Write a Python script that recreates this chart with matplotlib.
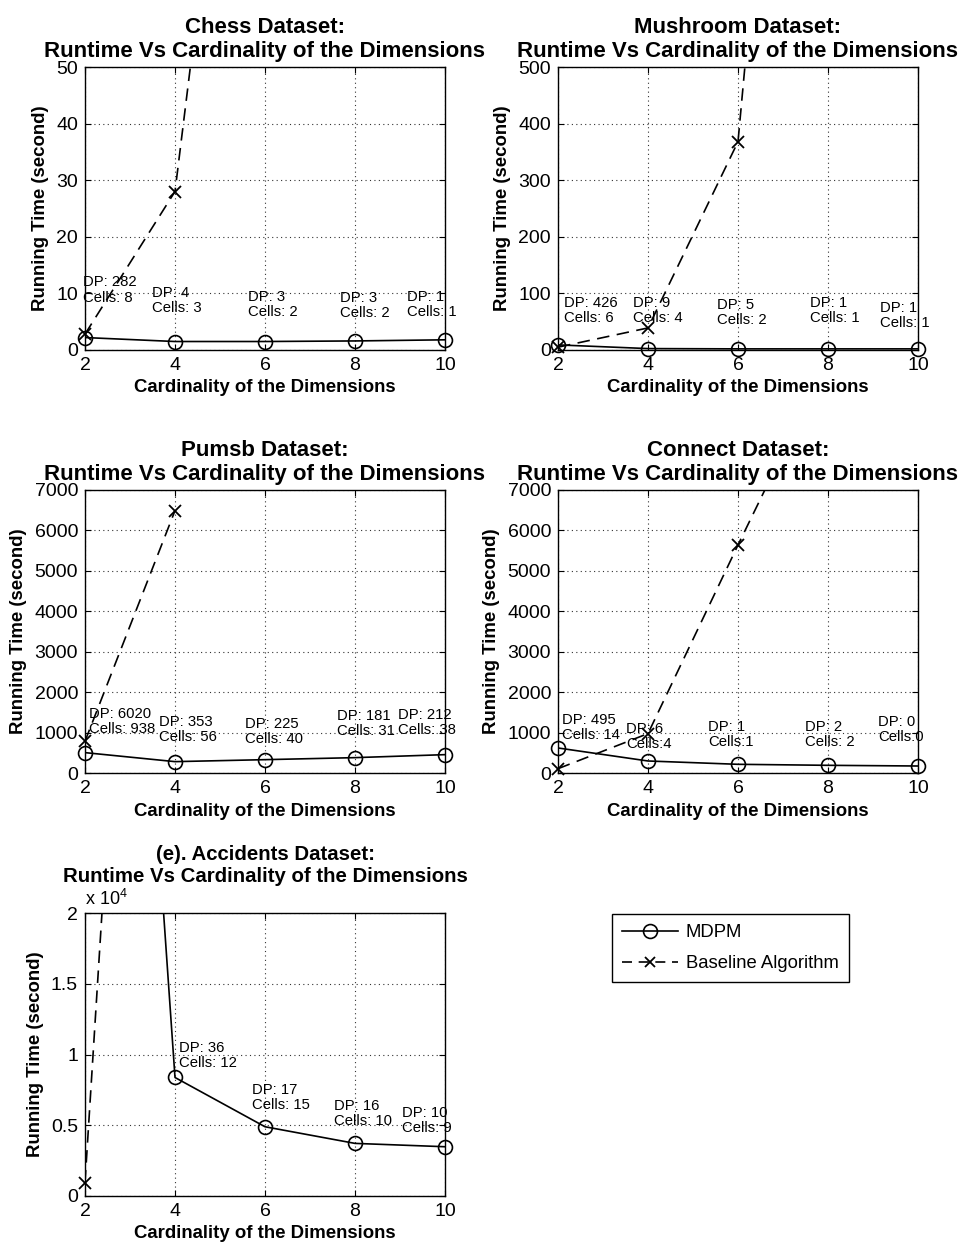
import matplotlib
matplotlib.use('Agg')
import numpy as np
from matplotlib import pyplot as plt
from matplotlib.lines import Line2D
from matplotlib.ticker import FuncFormatter

plt.rcParams['font.family'] = ['Liberation Sans', 'DejaVu Sans']
plt.rcParams['mathtext.fontset'] = 'custom'
plt.rcParams['mathtext.rm'] = 'Liberation Sans'

# cardinality of the dimensions
x = [2, 4, 6, 8, 10]

# chess
chess_mdpm = [2.2, 1.5, 1.5, 1.6, 1.8]
chess_base_x = [2, 4, 6]
chess_base = [2.8, 28, 157]
chess_labels = ['DP: 282\nCells: 8', 'DP: 4\nCells: 3', 'DP: 3\nCells: 2', 'DP: 3\nCells: 2', 'DP: 1\nCells: 1']
chess_lx = [1.95, 3.5, 5.63, 7.67, 9.16]
chess_ly = [10.6, 8.7, 8.0, 7.8, 8.0]

# mushroom
mush_mdpm = [9, 2.5, 2, 2, 2]
mush_base_x = [2, 4, 6, 8]
mush_base = [5, 39, 368, 2100]
mush_labels = ['DP: 426\nCells: 6', 'DP: 9\nCells: 4', 'DP: 5\nCells: 2', 'DP: 1\nCells: 1', 'DP: 1\nCells: 1']
mush_lx = [2.13, 3.66, 5.54, 7.6, 9.16]
mush_ly = [70, 70, 67, 70, 61]

# pumsb
pumsb_mdpm = [504, 281, 330, 380, 454]
pumsb_base_x = [2, 4]
pumsb_base = [785, 6490]
pumsb_labels = ['DP: 6020\nCells: 938', 'DP: 353\nCells: 56', 'DP: 225\nCells: 40', 'DP: 181\nCells: 31', 'DP: 212\nCells: 38']
pumsb_lx = [2.08, 3.65, 5.56, 7.61, 8.96]
pumsb_ly = [1280, 1065, 1024, 1214, 1255]

# connect
conn_mdpm = [619, 297, 215, 190, 173]
conn_base_x = [2, 4, 6, 8]
conn_base = [107, 975, 5640, 10200]
conn_labels = ['DP: 495\nCells: 14', 'DP: 6\nCells:4', 'DP: 1\nCells:1', 'DP: 2\nCells: 2', 'DP: 0\nCells:0']
conn_lx = [2.10, 3.52, 5.33, 7.49, 9.12]
conn_ly = [1123, 908, 950, 950, 1082]

# accidents
acc_mdpm = [100000, 8376, 4894, 3718, 3482]
acc_base_x = [2, 4]
acc_base = [950, 102000]
acc_labels = ['DP: 36\nCells: 12', 'DP: 17\nCells: 15', 'DP: 16\nCells: 10', 'DP: 10\nCells: 9']
acc_lx = [4.08, 5.71, 7.54, 9.04]
acc_ly = [9906, 6965, 5835, 5365]

W, H = 970, 1248
fig = plt.figure(figsize=(W / 100, H / 100), dpi=100)


def px_axes(left, top, right, bottom):
    return fig.add_axes([left / W, 1 - bottom / H, (right - left) / W, (bottom - top) / H])


def panel(ax, title, tsize, tpad, mdpm, bx, base, labels, lx, ly, ymax, ystep):
    ax.plot(x, mdpm, '-', color='k', lw=1.2)
    ax.plot(bx, base, '--', color='k', lw=1.2, dashes=(7.5, 4.5))
    mx = np.array(x); my = np.array(mdpm)
    ok = my <= ymax
    ax.plot(mx[ok], my[ok], 'o', mfc='none', mec='k', ms=10, mew=1.2, clip_on=False)
    bxa = np.array(bx); bya = np.array(base)
    ok = bya <= ymax
    ax.plot(bxa[ok], bya[ok], 'x', color='k', ms=8, mew=1.3, clip_on=False)
    for s, tx, ty in zip(labels, lx, ly):
        ax.text(tx, ty, s, fontsize=10.7, ha='left', va='center', linespacing=1.1)
    ax.set_xlim(2, 10)
    ax.set_ylim(0, ymax)
    ax.set_xticks(x)
    ax.set_yticks(np.arange(0, ymax + ystep / 2, ystep))
    ax.grid(True, linestyle=(0, (1, 3)), color='0.2', lw=0.8)
    ax.tick_params(direction='in', top=True, right=True, length=4, labelsize=14, pad=5)
    for sp in ax.spines.values():
        sp.set_linewidth(1.0)
    ax.set_title(title, fontsize=tsize, fontweight='bold', pad=tpad, linespacing=1.2)
    ax.set_xlabel('Cardinality of the Dimensions', fontsize=13.4, fontweight='bold', labelpad=4)
    ax.set_ylabel('Running Time (second)', fontsize=13.4, fontweight='bold', labelpad=5)


sub = 'Runtime Vs Cardinality of the Dimensions'
ax1 = px_axes(85, 67, 445, 350)
panel(ax1, 'Chess Dataset:\n' + sub, 16, 7, chess_mdpm, chess_base_x, chess_base,
      chess_labels, chess_lx, chess_ly, 50, 10)
ax2 = px_axes(558, 67, 918, 350)
panel(ax2, 'Mushroom Dataset:\n' + sub, 16, 7, mush_mdpm, mush_base_x, mush_base,
      mush_labels, mush_lx, mush_ly, 500, 100)
ax3 = px_axes(85, 490, 445, 773)
panel(ax3, 'Pumsb Dataset:\n' + sub, 16, 7, pumsb_mdpm, pumsb_base_x, pumsb_base,
      pumsb_labels, pumsb_lx, pumsb_ly, 7000, 1000)
ax4 = px_axes(558, 490, 918, 773)
panel(ax4, 'Connect Dataset:\n' + sub, 16, 7, conn_mdpm, conn_base_x, conn_base,
      conn_labels, conn_lx, conn_ly, 7000, 1000)
ax5 = px_axes(85, 913, 445, 1196)
panel(ax5, '(e). Accidents Dataset:\n' + sub, 14.7, 22, acc_mdpm, acc_base_x, acc_base,
      acc_labels, acc_lx, acc_ly, 20000, 5000)
ax5.yaxis.set_major_formatter(FuncFormatter(lambda v, p: f'{v / 1e4:g}'))
ax5.text(0.0, 1.015, r'x 10$^{\mathrm{4}}$', transform=ax5.transAxes, fontsize=13,
         ha='left', va='bottom')

handles = [Line2D([], [], color='k', lw=1.2, marker='o', mfc='none', ms=10, mew=1.2),
           Line2D([], [], color='k', lw=1.2, ls='--', dashes=(6, 4), marker='x', ms=7, mew=1.3)]
leg = fig.legend(handles, ['MDPM', 'Baseline Algorithm'], loc='upper left',
                 bbox_to_anchor=(612 / W, 1 - 914 / H), borderaxespad=0, fontsize=13.3,
                 fancybox=False, framealpha=1, edgecolor='k', handlelength=3,
                 handletextpad=0.45, labelspacing=0.75, borderpad=0.55)
leg.get_frame().set_linewidth(1.0)

fig.savefig('out.png', dpi=100)
